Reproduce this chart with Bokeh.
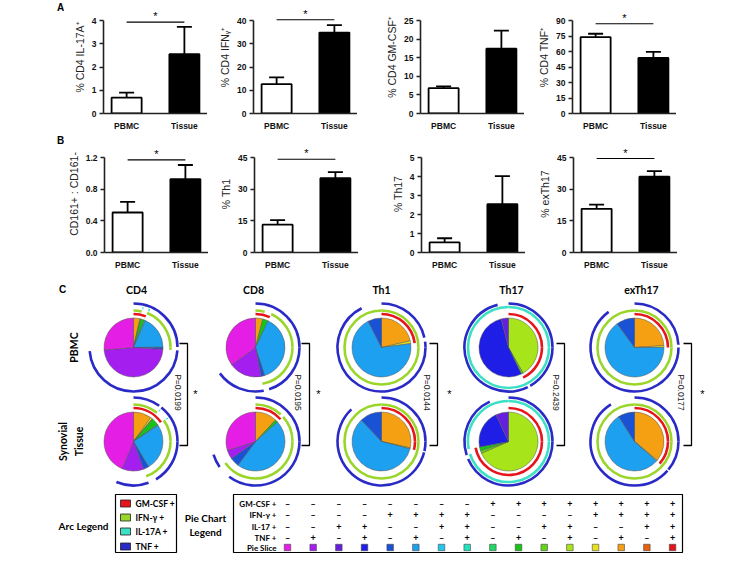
import math
from bokeh.plotting import figure
from bokeh.models import Range1d, FixedTicker, Whisker, ColumnDataSource, TeeHead, NumeralTickFormatter
from bokeh.layouts import column, row
from bokeh.embed import file_html
from bokeh.resources import INLINE
from bokeh.core.properties import value

# ---------------- data ----------------
groups = ["PBMC", "Tissue"]
bar_fill = ["white", "black"]

a_ylabels = ["% CD4 IL-17A\u207a", "% CD4 IFN\u1d67\u207a", "% CD4 GM-CSF\u207a", "% CD4 TNF\u207a"]
a_means = [[0.68, 2.55], [12.6, 34.8], [6.8, 17.4], [74.0, 53.8]]
a_errs = [[0.22, 1.18], [2.9, 3.2], [0.5, 4.9], [3.2, 5.9]]
a_ticks = [[0, 1, 2, 3, 4], [0, 10, 20, 30, 40], [0, 5, 10, 15, 20, 25], [0, 15, 30, 45, 60, 75, 90]]
a_sig = [3.93, 40.3, None, 86.8]

b_ylabels = ["CD161+ : CD161-", "% Th1", "% Th17", "% exTh17"]
b_means = [[0.505, 0.925], [13.2, 35.2], [0.53, 2.54], [20.7, 35.9]]
b_errs = [[0.135, 0.18], [2.1, 2.9], [0.22, 1.48], [2.0, 2.6]]
b_ticks = [[0.0, 0.4, 0.8, 1.2], [0, 15, 30, 45], [0, 1, 2, 3, 4, 5], [0, 15, 30, 45]]
b_fmt = ["0.0", "0", "0", "0"]
b_sig = [1.17, 44.2, None, 44.5]

# pie slices: index k = GM-CSF*8 + IFN*4 + IL17*2 + TNF  (legend order 1..16)
slice_colors = ["#e41ee4", "#a41ef0", "#6420dc", "#1e1ee6", "#1a52d6", "#1ea0f0", "#22c8e8", "#24e2c0",
                "#22d864", "#16c416", "#62d616", "#a8e41a", "#e8e21e", "#f5a012", "#e8620e", "#e0141a"]
cell_types = ["CD4", "CD8", "Th1", "Th17", "exTh17"]
cd4_pbmc = [0.26, 0.47, 0, 0, 0.012, 0.18, 0, 0.006, 0, 0.02, 0, 0.004, 0, 0.035, 0, 0]
cd4_tissue = [0.44, 0.12, 0, 0, 0.03, 0.26, 0, 0.004, 0, 0.04, 0, 0.004, 0.01, 0.10, 0, 0]
cd8_pbmc = [0.35, 0.18, 0, 0, 0.02, 0.38, 0, 0, 0, 0.03, 0, 0, 0, 0.04, 0, 0]
cd8_tissue = [0.30, 0.05, 0, 0, 0.05, 0.47, 0, 0, 0, 0.015, 0, 0, 0, 0.12, 0, 0]
th1_pbmc = [0, 0, 0, 0, 0.075, 0.70, 0, 0, 0, 0, 0, 0, 0.015, 0.215, 0, 0]
th1_tissue = [0, 0, 0, 0, 0.12, 0.59, 0, 0, 0, 0, 0, 0, 0.005, 0.285, 0, 0]
th17_pbmc = [0, 0, 0.04, 0.535, 0, 0, 0, 0, 0, 0, 0.01, 0.42, 0, 0, 0, 0]
th17_tissue = [0, 0, 0.07, 0.21, 0, 0, 0, 0, 0, 0.02, 0.015, 0.685, 0, 0, 0, 0]
exth17_pbmc = [0, 0, 0, 0, 0.10, 0.65, 0, 0, 0, 0, 0, 0, 0.01, 0.24, 0, 0]
exth17_tissue = [0, 0, 0, 0, 0.09, 0.545, 0, 0, 0, 0, 0, 0, 0.005, 0.36, 0, 0]
pies_pbmc = [cd4_pbmc, cd8_pbmc, th1_pbmc, th17_pbmc, exth17_pbmc]
pies_tissue = [cd4_tissue, cd8_tissue, th1_tissue, th17_tissue, exth17_tissue]
p_values = ["P=0.0199", "P=0.0195", "P=0.0144", "P=0.2439", "P=0.0177"]
significant = [True, True, True, False, True]

arc_names = ["GM-CSF +", "IFN-\u03b3 +", "IL-17A +", "TNF +"]
arc_bits = [3, 2, 1, 0]
arc_colors = ["#e8141c", "#9ad62a", "#3ce0c4", "#2a2ac6"]
legend_rows = ["GM-CSF +", "IFN-\u03b3 +", "IL-17 +", "TNF +", "Pie Slice"]

SANS = "Liberation Sans"
CAL = "Lato"
FRAME_W = 104
LETTER_W = 64
LEFT_BORDERS = [39, 46, 63, 48]
TWO_PI = 2 * math.pi


def bar_fig(ylabel, means, errs, ticks, sig, left_border, tick_span, extra, bottom_border, fmt="0"):
    xs = [i + 1 for i in range(len(groups))]
    top = ticks[-1]
    y_end = top * (tick_span + extra) / tick_span
    p = figure(frame_width=FRAME_W, frame_height=tick_span + extra,
               x_range=Range1d(0.6, len(groups) + 0.4), y_range=Range1d(0, y_end),
               output_backend="svg", toolbar_location=None,
               min_border_left=left_border, min_border_right=0,
               min_border_top=0, min_border_bottom=bottom_border)
    p.grid.visible = False
    p.outline_line_color = None
    uppers = [m + e for m, e in zip(means, errs)]
    src = ColumnDataSource(dict(x=xs, top=means, upper=uppers, fill=bar_fill))
    w = Whisker(base="x", lower="top", upper="upper", source=src, line_color="black", line_width=1.8,
                upper_head=TeeHead(size=15, line_color="black", line_width=1.8), lower_head=None)
    p.add_layout(w)
    p.vbar(x="x", top="top", bottom=0, width=0.52, source=src, fill_color="fill",
           line_color="black", line_width=1.8)
    if sig is not None:
        p.segment(x0=[xs[0]], y0=[sig], x1=[xs[-1]], y1=[sig], line_color="black", line_width=1.1)
        p.text(x=[sum(xs) / len(xs)], y=[sig], text=["*"], text_align="center", text_baseline="bottom",
               text_font=value(SANS), text_font_size="11px", text_color="black")
    ya = p.yaxis[0]
    ya.ticker = FixedTicker(ticks=ticks)
    ya.bounds = (0, top)
    ya.formatter = NumeralTickFormatter(format=fmt)
    ya.axis_label = ylabel
    ya.axis_label_text_font = SANS
    ya.axis_label_text_font_size = "10.5px"
    ya.axis_label_text_font_style = "normal"
    ya.axis_label_text_color = "#222222"
    ya.axis_label_standoff = 3
    xa = p.xaxis[0]
    xa.ticker = FixedTicker(ticks=xs)
    xa.major_label_overrides = {x: g for x, g in zip(xs, groups)}
    for ax in (xa, ya):
        ax.axis_line_width = 1.6
        ax.axis_line_color = "#222222"
        ax.major_tick_line_width = 1.4
        ax.major_tick_line_color = "#222222" if ax is ya else None
        ax.major_tick_out = 4
        ax.major_tick_in = 0
        ax.minor_tick_line_color = None
        ax.major_label_text_font = SANS
        ax.major_label_text_font_style = "bold"
        ax.major_label_text_font_size = "8.5px"
        ax.major_label_text_color = "#111111"
        ax.major_label_standoff = 3
    return p


def letter_fig(letter, frame_h, bottom_border, ly):
    f = figure(frame_width=LETTER_W, frame_height=frame_h, x_range=Range1d(0, LETTER_W),
               y_range=Range1d(-frame_h, 0), output_backend="svg", toolbar_location=None,
               min_border_left=0, min_border_right=0, min_border_top=0, min_border_bottom=bottom_border)
    f.axis.visible = False
    f.grid.visible = False
    f.outline_line_color = None
    f.text(x=[60], y=[-ly], text=[letter], text_align="center", text_baseline="middle",
           text_font=value(SANS), text_font_style="bold", text_font_size="10px", text_color="black")
    return f


# row A: frame spans page y 0..113 (top tick at 20); row B: frame spans 135..252 (top tick at 157)
row_a = [bar_fig(a_ylabels[i], a_means[i], a_errs[i], a_ticks[i], a_sig[i], LEFT_BORDERS[i],
                 93, 20, 22) for i in range(4)]
row_b = [bar_fig(b_ylabels[i], b_means[i], b_errs[i], b_ticks[i], b_sig[i], LEFT_BORDERS[i],
                 95, 22, 20, b_fmt[i]) for i in range(4)]
letter_a = letter_fig("A", 113, 22, 7)
letter_b = letter_fig("B", 117, 20, 5)

# ---------------- panel C ----------------
pie = figure(width=742, height=288, x_range=Range1d(0, 742), y_range=Range1d(-560, -272),
             output_backend="svg", toolbar_location=None,
             min_border_left=0, min_border_right=0, min_border_top=0, min_border_bottom=0)
pie.axis.visible = False
pie.grid.visible = False
pie.outline_line_color = None

pie_x = [133, 255, 381, 508, 634]
pie_y = [347, 441]
title_x = [136, 253, 381, 511, 641]
R = 29.5
ring_r = [33.5, 37, 40.5, 44]


def norm(s, e):
    span = e - s
    s0 = s % TWO_PI
    e0 = s0 + span
    if e0 <= TWO_PI + 1e-9:
        return [(s0, min(e0, TWO_PI))]
    return [(s0, TWO_PI), (0.0, e0 - TWO_PI)]


wx, wy, ws, we, wc = [], [], [], [], []
ax_, ay_, ar_, as_, ae_, acol = [], [], [], [], [], []
for ci in range(len(cell_types)):
    for ti, fr in enumerate([pies_pbmc[ci], pies_tissue[ci]]):
        cx, cy = pie_x[ci], -pie_y[ti]
        total = sum(fr)
        cur = math.pi / 2
        slices = []
        for k in range(15, -1, -1):
            f = fr[k] / total
            if f <= 0:
                continue
            a = f * TWO_PI
            slices.append((k, cur - a, cur))
            cur -= a
        for k, s, e in slices:
            wx.append(cx); wy.append(cy); ws.append(s); we.append(e); wc.append(slice_colors[k])
        for m in range(4):
            segs = []
            for k, s, e in slices:
                if (k >> arc_bits[m]) & 1:
                    if segs and abs(segs[-1][0] - e) < 1e-9:
                        segs[-1][0] = s
                    else:
                        segs.append([s, e])
            for s, e in segs:
                for s0, e0 in norm(s, e):
                    ax_.append(cx); ay_.append(cy); ar_.append(ring_r[m]); as_.append(s0); ae_.append(e0)
                    acol.append(arc_colors[m])

pie.wedge(x=wx, y=wy, radius=R, start_angle=ws, end_angle=we, direction="anticlock",
          fill_color=wc, line_color="#555555", line_width=0.5)
pie.arc(x=ax_, y=ay_, radius=ar_, start_angle=as_, end_angle=ae_, direction="anticlock",
        line_color=acol, line_width=2.6)

# titles
pie.text(x=title_x, y=[-289] * 5, text=cell_types, text_align="center", text_baseline="middle",
         text_font=value(CAL), text_font_style="bold", text_font_size="10.5px", text_color="black")
pie.text(x=[62], y=[-289], text=["C"], text_align="center", text_baseline="middle",
         text_font=value(SANS), text_font_style="bold", text_font_size="10px")
# row labels
pie.text(x=[73, 62, 78], y=[-347, -441, -441], text=["PBMC", "Synovial", "Tissue"],
         angle=math.pi / 2, text_align="center", text_baseline="middle",
         text_font=value(CAL), text_font_style="bold", text_font_size="10.5px")

# brackets
bx = [187, 309, 437, 564, 691]
px_ = [177, 297, 426, 555, 680]
sx = [195, 318, 449, 576, 702]
btop, bbot = 343, 445
pie.multi_line(xs=[[b - 8, b, b, b - 8] for b in bx], ys=[[-btop, -btop, -bbot, -bbot] for _ in bx],
               line_color="black", line_width=1.3)
pie.text(x=px_, y=[-392] * 5, text=p_values, angle=-math.pi / 2, text_align="center",
         text_baseline="middle", text_font=value(SANS), text_font_size="8.5px", text_color="#222222")
pie.text(x=[s for s, g in zip(sx, significant) if g], y=[-393] * sum(significant), text=["*"] * sum(significant),
         text_align="center", text_baseline="middle", text_font=value(SANS), text_font_size="11px")

# arc legend
pie.quad(left=[115], right=[176], top=[-494], bottom=[-552], fill_color=None, line_color="black", line_width=1.2)
arc_ly = [503, 517, 531, 546]
pie.rect(x=[125] * 4, y=[-v for v in arc_ly], width=10, height=7, fill_color=arc_colors,
         line_color="#222222", line_width=0.8)
pie.text(x=[135] * 4, y=[-v for v in arc_ly], text=arc_names, text_align="left", text_baseline="middle",
         text_font=value(CAL), text_font_style="bold", text_font_size="8.5px")
pie.text(x=[108], y=[-525], text=["Arc Legend"], text_align="right", text_baseline="middle",
         text_font=value(CAL), text_font_style="bold", text_font_size="10px")
pie.text(x=[205, 205], y=[-517, -531], text=["Pie Chart", "Legend"], text_align="center",
         text_baseline="middle", text_font=value(CAL), text_font_style="bold", text_font_size="10px")

# pie chart legend
pie.quad(left=[233], right=[682], top=[-494], bottom=[-552], fill_color=None, line_color="black", line_width=1.2)
row_y = [503, 514, 526, 537, 547]
pie.text(x=[276] * 5, y=[-v for v in row_y], text=legend_rows, text_align="right", text_baseline="middle",
         text_font=value(CAL), text_font_style="bold", text_font_size="8px")
col_x = [287 + i * 25.67 for i in range(16)]
sxs, sys_, stx = [], [], []
for k in range(16):
    for j, bit in enumerate(arc_bits):
        sxs.append(col_x[k]); sys_.append(-row_y[j]); stx.append("+" if (k >> bit) & 1 else "\u2013")
pie.text(x=sxs, y=sys_, text=stx, text_align="center", text_baseline="middle",
         text_font=value(CAL), text_font_style="bold", text_font_size="9px")
pie.rect(x=col_x, y=[-row_y[4]] * 16, width=6.5, height=6.5, fill_color=slice_colors,
         line_color="#444444", line_width=0.6)

layout = column(row(letter_a, *row_a), row(letter_b, *row_b), pie)
open("out.html", "w").write(file_html(layout, INLINE))
